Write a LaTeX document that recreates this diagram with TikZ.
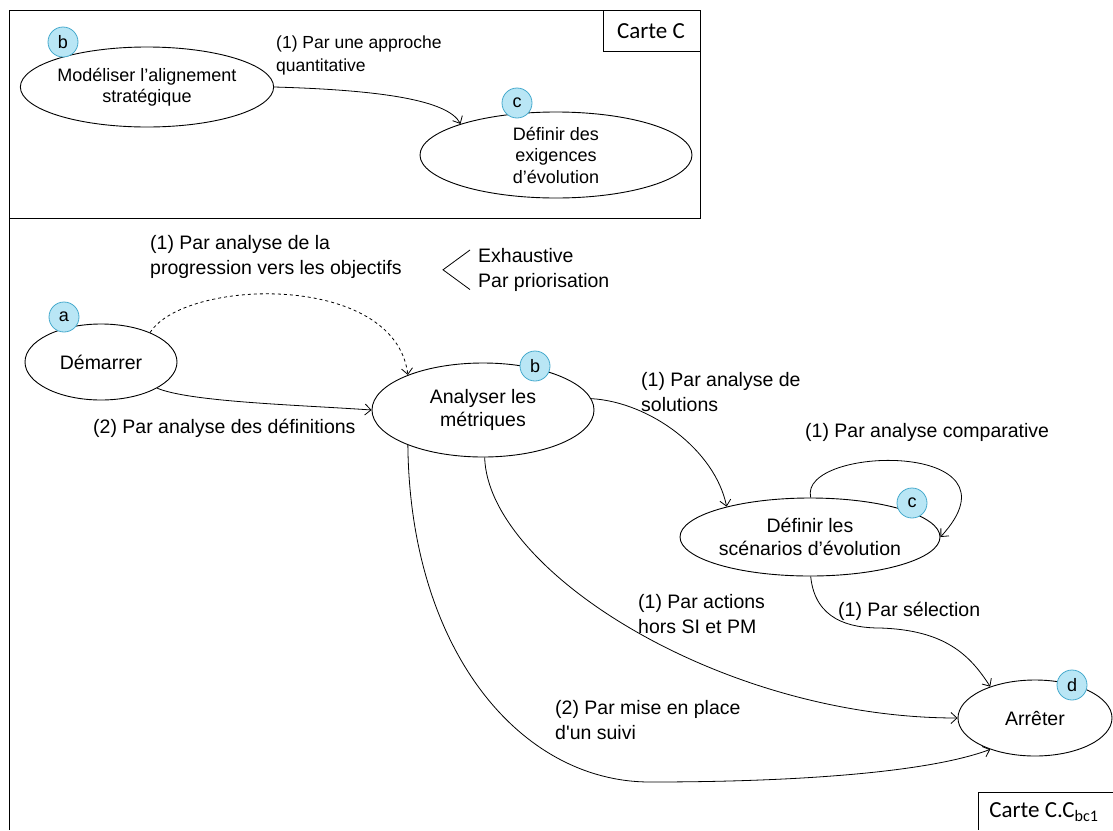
\documentclass[tikz,border=0pt]{standalone}
\usepackage{fontspec}
\setmainfont{Liberation Sans}
\newfontfamily\calib{Carlito}
\usetikzlibrary{shapes.geometric,arrows.meta}
\definecolor{badgefill}{RGB}{185,230,245}
\definecolor{badgeline}{RGB}{70,170,205}
\begin{document}
\begin{tikzpicture}[x=1pt,y=-1pt,
  ell/.style={draw, ellipse, line width=0.9pt, inner sep=0pt, align=center, font=\fontsize{19.5}{23}\selectfont},
  ellsmall/.style={ell, font=\fontsize{18}{21.5}\selectfont},
  badge/.style={circle, draw=badgeline, fill=badgefill, line width=0.8pt, minimum size=30pt, inner sep=0pt, font=\fontsize{18}{18}\selectfont},
  lbl/.style={inner sep=0pt, align=left, font=\fontsize{19.5}{25}\selectfont},
  lblsmall/.style={inner sep=0pt, align=left, font=\fontsize{17.5}{23}\selectfont},
  conn/.style={line width=0.8pt, -{Straight Barb[length=6pt,width=11pt]}},
  frame/.style={line width=0.9pt},
  carte/.style={font=\calib\fontsize{23}{24}\selectfont, inner sep=0pt}
]
\useasboundingbox (0,0) rectangle (1113,830);
% frames
\draw[frame] (9,830) -- (9,10) -- (700,10) -- (700,218) -- (9,218);
\draw[frame] (603,10) rectangle (700,51);
\node[carte] (cc) at (651,31) {Carte C};
\draw[frame] (1113,792) -- (978,792) -- (978,830);
\node[carte] (ccbc) at (1044,812) {Carte C.C\textsubscript{bc1}};

% top map
\node[ellsmall, minimum width=240pt, minimum height=80pt] (mod) at (147,87) {Modéliser l’alignement\\stratégique};
\node[ellsmall, minimum width=272pt, minimum height=86pt] (exi) at (556,155) {Définir des\\exigences\\d’évolution};
\node[badge] (bb1) at (63,42) {b};
\node[badge] (bc1) at (517,103) {c};
\node[lblsmall, anchor=north west] (l0) at (276,36) {(1) Par une approche\\quantitative};
\draw[conn] (mod.east) .. controls (380,90) and (448,100) .. (exi.162);

% bottom map
\node[ell, minimum width=152pt, minimum height=76pt] (dem) at (101,362) {Démarrer};
\node[ell, minimum width=222pt, minimum height=94pt] (ana) at (483,410) {Analyser les\\métriques};
\node[ell, minimum width=260pt, minimum height=78pt] (sce) at (810,537) {Définir les\\scénarios d’évolution};
\node[ell, minimum width=154pt, minimum height=76pt] (arr) at (1035,718) {Arrêter};
\node[badge] (ba) at (64,317) {a};
\node[badge] (bb) at (535,366) {b};
\node[badge] (bc) at (912,503) {c};
\node[badge] (bd) at (1072,685) {d};

\node[lbl, anchor=north west] (l1) at (150,235) {(1) Par analyse de la\\progression vers les objectifs};
\node[lbl, anchor=north west] (l1b) at (478,248) {Exhaustive\\Par priorisation};
\draw[line width=0.8pt] ([xshift=-8pt,yshift=-2pt]l1b.north west) -- ([xshift=-35pt]l1b.west) -- ([xshift=-8pt,yshift=2pt]l1b.south west);
\node[lbl, anchor=west] (l2) at (93,428) {(2) Par analyse des définitions};
\node[lbl, anchor=north west] (l3) at (641,372) {(1) Par analyse de\\solutions};
\node[lbl, anchor=west] (l4) at (805,432) {(1) Par analyse comparative};
\node[lbl, anchor=north west] (l5) at (638,594) {(1) Par actions\\hors SI et PM};
\node[lbl, anchor=west] (l6) at (838,611) {(1) Par sélection};
\node[lbl, anchor=north west] (l7) at (555,700) {(2) Par mise en place\\d\textquotesingle un suivi};

\draw[conn, dashed] (dem.31) .. controls (185,278) and (395,272) .. (ana.155);
\draw[conn] (dem.-25) .. controls (190,402) and (300,405) .. (ana.west);
\draw[conn] (ana.6) .. controls (650,402) and (715,450) .. (sce.160);
\draw[conn] (sce.89) .. controls (798,445) and (1030,440) .. (sce.east);
\draw[conn] (sce.-89) .. controls (815,620) and (850,628) .. (880,628) .. controls (945,630) and (970,655) .. (arr.145);
\draw[conn] (ana.-88) .. controls (488,570) and (720,718) .. (arr.west);
\draw[conn] (ana.-155) .. controls (410,650) and (520,782) .. (650,782) .. controls (800,782) and (930,772) .. (arr.-145);
\end{tikzpicture}
\end{document}
